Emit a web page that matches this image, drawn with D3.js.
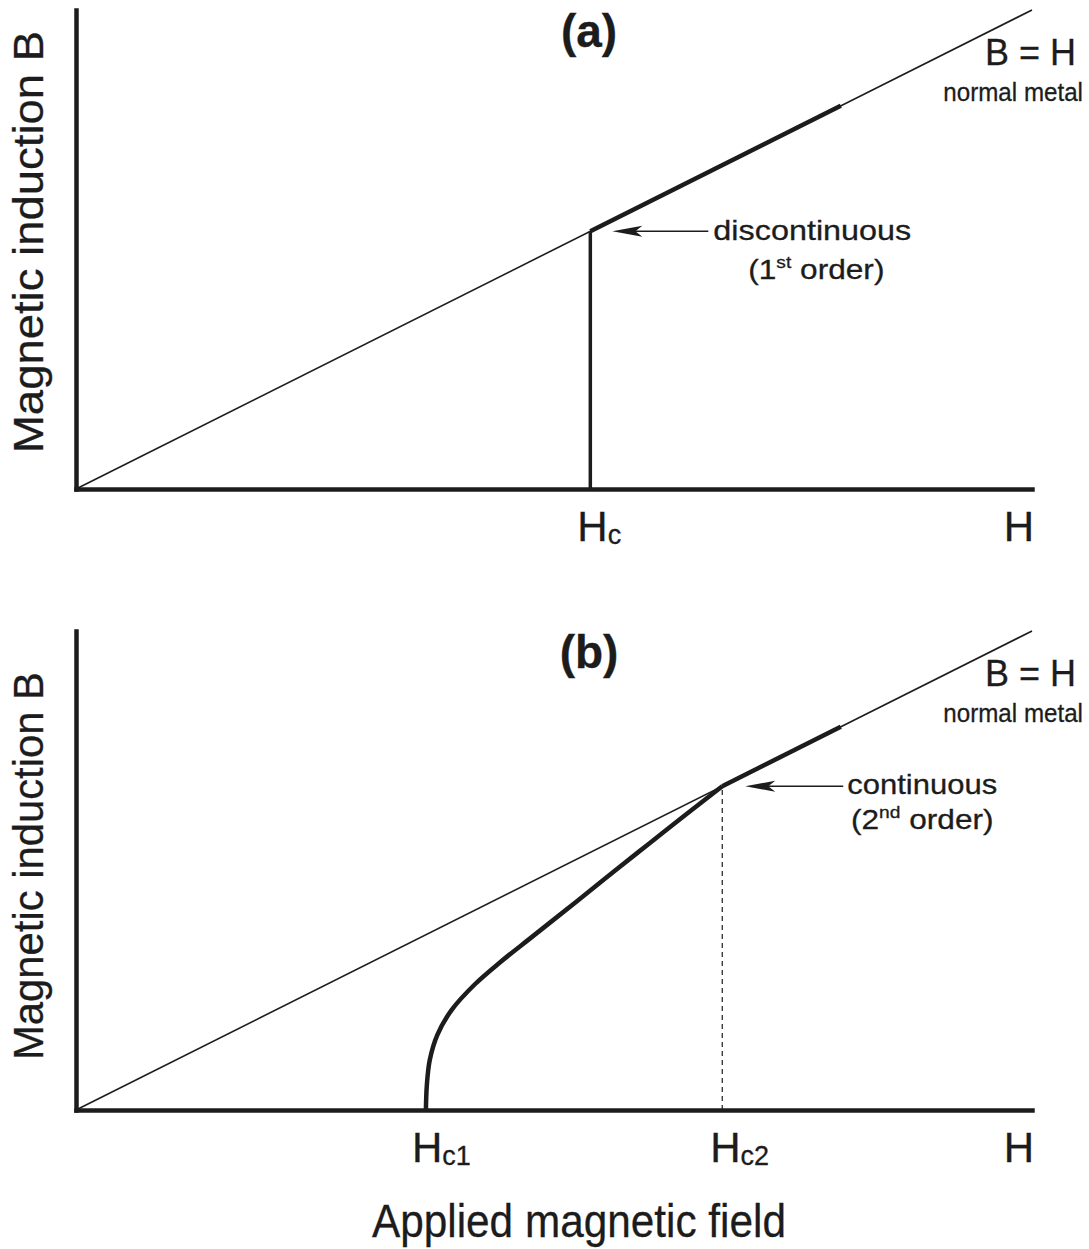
<!DOCTYPE html>
<html>
<head>
<meta charset="utf-8">
<script src="https://cdn.jsdelivr.net/npm/d3@7"></script>
<style>
  body { margin: 0; background: #fff; }
  text { font-family: "Liberation Sans", Arial, Helvetica, sans-serif; fill: #1c1c1c; stroke: #1c1c1c; stroke-width: 0.3; }
</style>
</head>
<body>
<svg id="chart" width="1089" height="1249"></svg>
<script>
// field and induction in arbitrary units, B = H spans the whole frame
const hDomain = [0, 10];
const bDomain = [0, 10];
const normalH = [0, 10];          // B = H reference line
const normalEnd = 8.0;            // heavy normal-state segment stops here
const hc = 5.38;                  // type I critical field
const hc1 = 3.66;                 // type II lower critical field
const hc2 = 6.76;                 // type II upper critical field
// mixed state B(H) between Hc1 and Hc2
const mixedH = [3.66, 3.67, 3.70, 3.78, 3.93, 4.17, 4.44, 4.78, 5.24, 5.62, 6.00, 6.38, 6.76];
const mixedB = [0.00, 0.52, 1.04, 1.57, 2.09, 2.62, 3.09, 3.63, 4.36, 4.97, 5.57, 6.17, 6.76];

const ink = "#1c1c1c";
const svg = d3.select("#chart");

const x = d3.scaleLinear().domain(hDomain).range([76, 1032]);

const panels = [
  { key: "a", top: 10, bottom: 489, title: "(a)", ylabLen: 422, ylabMid: 242 },
  { key: "b", top: 631, bottom: 1110, title: "(b)", ylabLen: 388, ylabMid: 866 }
];

const line = d3.line().x(d => x(d[0]));

// small helper for text made of several runs (sub/superscripts)
function label(g, px, py, runs, opts) {
  const t = g.append("text")
    .attr("transform", `translate(${px},${py}) scale(${opts.sx || 1},1)`)
    .attr("font-size", opts.size)
    .attr("text-anchor", opts.anchor || "start");
  runs.forEach(r => {
    t.append("tspan")
      .attr("font-size", r.size || null)
      .attr("dy", r.dy || 0)
      .text(r.t);
  });
  return t;
}

function arrow(g, tipX, tipY, tailX) {
  g.append("line")
    .attr("x1", tipX + 18).attr("y1", tipY)
    .attr("x2", tailX).attr("y2", tipY)
    .attr("stroke", ink).attr("stroke-width", 1.6);
  g.append("path")
    .attr("d", `M${tipX},${tipY} L${tipX + 30},${tipY - 5.5} L${tipX + 23},${tipY} L${tipX + 30},${tipY + 5.5} Z`)
    .attr("fill", ink);
}

panels.forEach(p => {
  const y = d3.scaleLinear().domain(bDomain).range([p.bottom, p.top]);
  line.y(d => y(d[1]));
  const g = svg.append("g").attr("class", "panel-" + p.key);

  // axes: bare frame lines, no ticks
  g.append("g")
    .attr("transform", `translate(0,${p.bottom})`)
    .call(d3.axisBottom(x).tickValues([]).tickSizeOuter(0))
    .select(".domain").attr("stroke", ink).attr("stroke-width", 4.5)
    .attr("stroke-linecap", "square");
  g.append("g")
    .attr("transform", `translate(${x(0)},0)`)
    .call(d3.axisLeft(y).tickValues([]).tickSizeOuter(0))
    .select(".domain").attr("stroke", ink).attr("stroke-width", 4.5)
    .attr("stroke-linecap", "square");

  // B = H normal metal line
  g.append("path")
    .datum(normalH.map(h => [h, h]))
    .attr("d", line)
    .attr("fill", "none").attr("stroke", ink).attr("stroke-width", 1.6);

  const hcrit = p.key === "a" ? hc : hc2;

  // heavy segment where sample is normal
  g.append("path")
    .datum([[hcrit, hcrit], [normalEnd, normalEnd]])
    .attr("d", line)
    .attr("fill", "none").attr("stroke", ink).attr("stroke-width", 4.5);

  if (p.key === "a") {
    g.append("path")
      .datum([[hc, 0], [hc, hc]])
      .attr("d", line)
      .attr("fill", "none").attr("stroke", ink).attr("stroke-width", 3.5);
  } else {
    g.append("path")
      .datum([[hc2, 0], [hc2, hc2]])
      .attr("d", line)
      .attr("fill", "none").attr("stroke", ink).attr("stroke-width", 1.2)
      .attr("stroke-dasharray", "5,4");
    g.append("path")
      .datum(mixedH.map((h, i) => [h, mixedB[i]]))
      .attr("d", d3.line().x(d => x(d[0])).y(d => y(d[1])).curve(d3.curveCatmullRom.alpha(0.5)))
      .attr("fill", "none").attr("stroke", ink).attr("stroke-width", 4.5)
      .attr("stroke-linejoin", "round");
  }

  // panel title
  g.append("text")
    .attr("x", 589).attr("y", p.top + 37)
    .attr("text-anchor", "middle")
    .attr("font-size", 46).attr("font-weight", "bold")
    .text(p.title);

  // B = H / normal metal
  g.append("text")
    .attr("x", 1076).attr("y", p.top + 55)
    .attr("text-anchor", "end").attr("font-size", 36)
    .text("B = H");
  label(g, 1083, p.top + 91, [{ t: "normal metal" }], { size: 26, anchor: "end", sx: 0.93 });

  // y label
  g.append("text")
    .attr("transform", `translate(43,${p.ylabMid}) rotate(-90)`)
    .attr("text-anchor", "middle").attr("font-size", 42)
    .attr("textLength", p.ylabLen).attr("lengthAdjust", "spacingAndGlyphs")
    .text("Magnetic induction B");

  // field labels under the axis
  const base = p.bottom + 52;
  label(g, 1034, base, [{ t: "H" }], { size: 42, anchor: "end" });
  if (p.key === "a") {
    label(g, x(hc) - 13, base, [{ t: "H" }, { t: "c", size: 27, dy: 3 }], { size: 42 });
  } else {
    label(g, x(hc1) - 14, base, [{ t: "H" }, { t: "c1", size: 27, dy: 3 }], { size: 42 });
    label(g, x(hc2) - 12, base, [{ t: "H" }, { t: "c2", size: 27, dy: 3 }], { size: 42 });
  }

  // transition annotation
  const px = x(hcrit), py = y(hcrit);
  if (p.key === "a") {
    arrow(g, px + 22, py, px + 118);
    g.append("text")
      .attr("x", px + 123).attr("y", py + 9).attr("font-size", 28)
      .attr("textLength", 198).attr("lengthAdjust", "spacingAndGlyphs")
      .text("discontinuous");
    label(g, px + 226, py + 48,
      [{ t: "(1" }, { t: "st", size: 17, dy: -11 }, { t: " order)", dy: 11 }],
      { size: 28, anchor: "middle", sx: 1.13 });
  } else {
    arrow(g, px + 23, py, px + 121);
    g.append("text")
      .attr("x", px + 125).attr("y", py + 8).attr("font-size", 28)
      .attr("textLength", 150).attr("lengthAdjust", "spacingAndGlyphs")
      .text("continuous");
    label(g, px + 200, py + 43,
      [{ t: "(2" }, { t: "nd", size: 17, dy: -11 }, { t: " order)", dy: 11 }],
      { size: 28, anchor: "middle", sx: 1.13 });
  }
});

// shared x label
svg.append("text")
  .attr("x", 579).attr("y", 1237)
  .attr("text-anchor", "middle").attr("font-size", 46)
  .attr("textLength", 414).attr("lengthAdjust", "spacingAndGlyphs")
  .text("Applied magnetic field");
</script>
</body>
</html>
